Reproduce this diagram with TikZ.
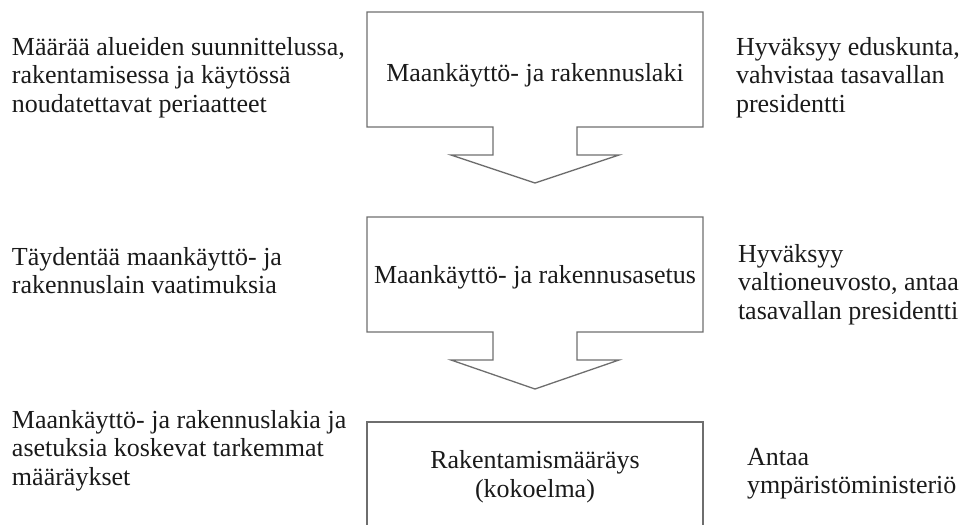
\documentclass[tikz,border=0pt]{standalone}
\usepackage{fontspec}
\setmainfont{Liberation Serif}
\definecolor{edge}{HTML}{6E6E6E}
\definecolor{ink}{HTML}{1A1A1A}
\begin{document}
\begin{tikzpicture}[x=1pt,y=-1pt,
  every node/.style={inner sep=0pt,outer sep=0pt,text=ink,
    font=\fontsize{26}{28.5}\selectfont},
  note/.style={anchor=base west,align=left},
  title/.style={anchor=base,align=center},
  stage/.style={draw=edge,line width=1.3pt,line join=miter}]
\useasboundingbox (0,0) rectangle (962,525);

% stage outlines: box with downward arrow
\draw[stage] (367,12) -- (703,12) -- (703,127) -- (577,127) -- (577,155)
  -- (619,155) -- (535,183) -- (451,155) -- (493,155) -- (493,127)
  -- (367,127) -- cycle;
\draw[stage] (367,217) -- (703,217) -- (703,332) -- (577,332) -- (577,360)
  -- (619,360) -- (535,389) -- (451,360) -- (493,360) -- (493,332)
  -- (367,332) -- cycle;
\draw[stage] (367,540) -- (367,422) -- (703,422) -- (703,540);

% stage titles (anchor base = baseline of the last line)
\node[title] (laki) at (535,81) {Maankäyttö- ja rakennuslaki};
\node[title] (asetus) at (535,283) {Maankäyttö- ja rakennusasetus};
\node[title] (maarays) at (535,497) {Rakentamismääräys\\(kokoelma)};

% descriptions on the left
\node[note] (d1) at (12,112) {Määrää alueiden suunnittelussa,\\rakentamisessa ja käytössä\\noudatettavat periaatteet};
\node[note] (d2) at (12,293.5) {Täydentää maankäyttö- ja\\rakennuslain vaatimuksia};
\node[note] (d3) at (12,485) {Maankäyttö- ja rakennuslakia ja\\asetuksia koskevat tarkemmat\\määräykset};

% issuing bodies on the right
\node[note] (a1) at (736,112) {Hyväksyy eduskunta,\\vahvistaa tasavallan\\presidentti};
\node[note] (a2) at (738,319) {Hyväksyy\\valtioneuvosto, antaa\\tasavallan presidentti};
\node[note] (a3) at (747,493.5) {Antaa\\ympäristöministeriö};
\end{tikzpicture}
\end{document}
